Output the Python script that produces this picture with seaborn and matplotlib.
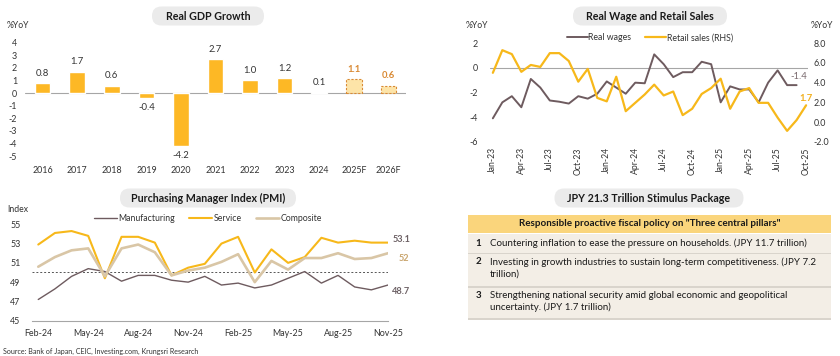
import matplotlib.pyplot as plt
import seaborn as sns
import pandas as pd
import numpy as np
from matplotlib.patches import FancyBboxPatch, Rectangle

# ---- data ----
gdp_years = ['2016', '2017', '2018', '2019', '2020', '2021', '2022', '2023', '2024', '2025F', '2026F']
gdp_growth = [0.8, 1.7, 0.6, -0.4, -4.2, 2.7, 1.0, 1.2, 0.1, 1.1, 0.6]
gdp_forecast = [False] * 9 + [True] * 2

wage_months = ['Jan-23', 'Feb-23', 'Mar-23', 'Apr-23', 'May-23', 'Jun-23', 'Jul-23', 'Aug-23', 'Sep-23',
               'Oct-23', 'Nov-23', 'Dec-23', 'Jan-24', 'Feb-24', 'Mar-24', 'Apr-24', 'May-24', 'Jun-24',
               'Jul-24', 'Aug-24', 'Sep-24', 'Oct-24', 'Nov-24', 'Dec-24', 'Jan-25', 'Feb-25', 'Mar-25',
               'Apr-25', 'May-25', 'Jun-25', 'Jul-25', 'Aug-25', 'Sep-25', 'Oct-25']
real_wages = [-4.1, -2.8, -2.3, -3.2, -0.9, -1.6, -2.65, -2.75, -2.9, -2.3, -2.5, -2.1,
              -1.1, -1.6, -2.1, -1.2, -1.25, 1.1, 0.3, -0.75, -0.35, -0.35, 0.5, 0.3,
              -2.8, -1.5, -1.75, -1.75, -2.8, -1.2, -0.2, -1.4, -1.4, np.nan]
retail_sales = [5.0, 7.3, 6.9, 5.1, 5.8, 5.6, 7.0, 7.0, 6.2, 4.1, 5.4, 2.45,
                2.1, 4.6, 1.1, 1.95, 2.8, 3.8, 2.7, 3.1, 0.7, 1.35, 2.85, 3.45,
                4.4, 1.35, 3.1, 3.45, 1.95, 1.95, 0.45, -0.9, 0.2, 1.7]

pmi_months = ['Feb-24', 'Mar-24', 'Apr-24', 'May-24', 'Jun-24', 'Jul-24', 'Aug-24', 'Sep-24', 'Oct-24',
              'Nov-24', 'Dec-24', 'Jan-25', 'Feb-25', 'Mar-25', 'Apr-25', 'May-25', 'Jun-25', 'Jul-25',
              'Aug-25', 'Sep-25', 'Oct-25', 'Nov-25']
pmi_manufacturing = [47.2, 48.3, 49.6, 50.4, 50.1, 49.1, 49.7, 49.7, 49.2, 49.0, 49.6,
                     48.7, 48.9, 48.4, 48.7, 49.4, 50.1, 48.9, 49.7, 48.5, 48.2, 48.7]
pmi_service = [52.9, 54.1, 54.3, 53.8, 49.4, 53.7, 53.7, 53.1, 49.7, 50.5, 50.9,
               53.0, 53.7, 50.0, 52.4, 51.0, 51.6, 53.6, 53.1, 53.3, 53.1, 53.1]
pmi_composite = [50.6, 51.6, 52.3, 52.5, 49.6, 52.5, 52.9, 52.1, 49.7, 50.2, 50.5,
                 51.1, 51.9, 49.0, 51.2, 50.3, 51.5, 51.5, 52.0, 51.4, 51.5, 52.0]

pillar_header = 'Responsible proactive fiscal policy on "Three central pillars"'
pillar_nums = ['1', '2', '3']
pillar_texts = ['Countering inflation to ease the pressure on households. (JPY 11.7 trillion)',
                'Investing in growth industries to sustain long-term competitiveness. (JPY 7.2\ntrillion)',
                'Strengthening national security amid global economic and geopolitical\nuncertainty. (JPY 1.7 trillion)']

# ---- style ----
sns.set_theme(style="white")
plt.rcParams['font.family'] = ['Lato', 'DejaVu Sans']
plt.rcParams['axes.unicode_minus'] = False
TXT = '#333333'
YELLOW = '#FDB825'
LINE_YELLOW = '#F7B81A'
BROWN = '#6E5B5F'
TAN = '#D9C6A6'
ORANGE = '#D98A35'
TICK_FS = 6.4
LEG_FS = 6.3
W, H = 840, 356


def px_axes(fig, x0, y0, x1, y1):
    # axes from a pixel box, origin top-left
    return fig.add_axes([x0 / W, 1 - y1 / H, (x1 - x0) / W, (y1 - y0) / H])


fig = plt.figure(figsize=(8.4, 3.56), dpi=100)
fig.patch.set_facecolor('white')

# ======== Real GDP Growth ========
ax = px_axes(fig, 25.4, 42.7, 405.6, 156)
df_gdp = pd.DataFrame({'year': gdp_years, 'growth': gdp_growth})
sns.barplot(data=df_gdp, x='year', y='growth', hue='year', legend=False,
            palette=[YELLOW] * len(gdp_years), width=0.45, saturation=1, ax=ax, zorder=2)
for p, fc, val in zip(ax.patches, gdp_forecast, gdp_growth):
    if fc:
        p.set_facecolor('#FDE4A8')
        p.set_edgecolor(ORANGE)
        p.set_linestyle((0, (2, 1.5)))
        p.set_linewidth(0.8)
    x = p.get_x() + p.get_width() / 2
    off = 7 if val >= 0 else -7
    ax.annotate(f'{val:.1f}', (x, val), xytext=(0, off), textcoords='offset points',
                ha='center', va='center', fontsize=6.8, color=ORANGE if fc else TXT,
                fontweight='bold' if fc else 'normal')
ax.axhline(0, color='#A6A6A6', lw=0.8, zorder=1)
ax.set_ylim(-5, 4)
ax.set_xlim(-0.5, 10.5)
ax.set_yticks(range(-5, 5))
ax.set_xlabel('')
ax.set_ylabel('')
sns.despine(ax=ax, left=True, bottom=True)
ax.tick_params(axis='y', length=0, pad=6, labelsize=TICK_FS, labelcolor=TXT)
ax.tick_params(axis='x', length=0, pad=7, labelsize=TICK_FS, labelcolor=TXT)
ax.patch.set_alpha(0)

# ======== Real Wage and Retail Sales ========
axw = px_axes(fig, 490, 43.3, 808, 141.7)
pos_w = np.arange(len(wage_months))
axr = axw.twinx()
sns.lineplot(x=pos_w, y=real_wages, ax=axw, color=BROWN, lw=1.4, label='Real wages', legend=False)
sns.lineplot(x=pos_w, y=retail_sales, ax=axr, color=LINE_YELLOW, lw=1.6, label='Retail sales (RHS)', legend=False)
axw.axhline(0, color='#A6A6A6', lw=0.8, zorder=0)
axw.set_ylim(-6, 2)
axr.set_ylim(-2, 8)
axw.set_xlim(-0.3, 33.2)
axw.set_yticks([-6, -4, -2, 0, 2])
axr.set_yticks([-2, 0, 2, 4, 6, 8])
axr.set_yticklabels([f'{v:.1f}' for v in [-2, 0, 2, 4, 6, 8]])
axw.set_xticks(pos_w[::3])
axw.set_xticklabels(wage_months[::3], rotation=90)
for a in (axw, axr):
    sns.despine(ax=a, left=True, bottom=True, right=True)
    a.set_ylabel('')
    a.patch.set_alpha(0)
axw.tick_params(axis='y', length=0, pad=9, labelsize=TICK_FS, labelcolor=TXT)
axr.tick_params(axis='y', length=0, pad=4, labelsize=TICK_FS, labelcolor=TXT)
axw.tick_params(axis='x', length=0, pad=4, labelsize=6.2, labelcolor=TXT)
last_w = 32
axw.annotate(f'{real_wages[last_w]:.1f}', (pos_w[last_w], real_wages[last_w]), xytext=(1.5, 6),
             textcoords='offset points', fontsize=6.8, color='#7A6A6E', ha='center', va='center')
axr.annotate(f'{retail_sales[-1]:.1f}', (pos_w[-1], retail_sales[-1]), xytext=(0, 5),
             textcoords='offset points', fontsize=6.8, color='#F2B01E', fontweight='bold',
             ha='center', va='center')
h1, l1 = axw.get_legend_handles_labels()
h2, l2 = axr.get_legend_handles_labels()
axr.legend(h1 + h2, l1 + l2, loc='center', bbox_to_anchor=(0.503, 1.055), ncol=2, frameon=False,
           fontsize=LEG_FS, handlelength=2.4, columnspacing=1.6, handletextpad=0.1, labelcolor=TXT)

# ======== PMI ========
axp = px_axes(fig, 31.6, 224.3, 388.0, 320.7)
pos_p = np.arange(len(pmi_months))
sns.lineplot(x=pos_p, y=pmi_manufacturing, ax=axp, color=BROWN, lw=1.0, label='Manufacturing')
sns.lineplot(x=pos_p, y=pmi_service, ax=axp, color=LINE_YELLOW, lw=1.5, label='Service')
sns.lineplot(x=pos_p, y=pmi_composite, ax=axp, color=TAN, lw=1.9, label='Composite')
axp.axhline(50, color='#555555', lw=0.7, ls=(0, (2, 2)), zorder=0)
axp.set_ylim(45, 55)
axp.set_xlim(-0.4, 21.0)
axp.set_yticks(range(45, 56, 2))
axp.set_xticks(pos_p[::3])
axp.set_xticklabels(pmi_months[::3])
sns.despine(ax=axp, left=True)
axp.spines['bottom'].set_color('#A6A6A6')
axp.spines['bottom'].set_linewidth(0.8)
axp.tick_params(axis='y', length=0, pad=8, labelsize=TICK_FS, labelcolor=TXT)
axp.tick_params(axis='x', length=0, pad=6, labelsize=TICK_FS, labelcolor=TXT)
axp.patch.set_alpha(0)
axp.legend(loc='center', bbox_to_anchor=(0.495, 1.055), ncol=3, frameon=False, fontsize=LEG_FS,
           handlelength=2.6, columnspacing=1.6, handletextpad=0.2, labelcolor=TXT)
axp.annotate(f'{pmi_service[-1]:.1f}', (pos_p[-1], pmi_service[-1]), xytext=(3, 2),
             textcoords='offset points', fontsize=6.6, fontweight='bold', color='#6E6266',
             ha='left', va='center')
axp.annotate(f'{pmi_composite[-1]:g}', (pos_p[-1], pmi_composite[-1]), xytext=(8, -3.5),
             textcoords='offset points', fontsize=6.6, fontweight='bold', color='#C9A56E',
             ha='left', va='center')
axp.annotate(f'{pmi_manufacturing[-1]:.1f}', (pos_p[-1], pmi_manufacturing[-1]), xytext=(3, -4.5),
             textcoords='offset points', fontsize=6.6, fontweight='bold', color='#6E6266',
             ha='left', va='center')

# ======== overlay: titles, table, notes ========
ov = fig.add_axes([0, 0, 1, 1], zorder=-1)
ov.set_xlim(0, W)
ov.set_ylim(H, 0)
ov.axis('off')


def pill(cx, cy, w, h, text):
    ov.add_patch(FancyBboxPatch((cx - w / 2 + h / 2, cy - h / 2), w - h, h,
                                boxstyle=f'round,pad=0,rounding_size={h / 2}',
                                fc='#EBEBEB', ec='none'))
    ov.text(cx, cy, text, ha='center', va='center', fontsize=7.7, fontweight='bold', color='#1a1a1a')


pill(208, 16, 131, 19, 'Real GDP Growth')
pill(650, 16, 173, 19, 'Real Wage and Retail Sales')
pill(208, 198, 195, 19, 'Purchasing Manager Index (PMI)')
pill(649, 198, 208, 19, 'JPY 21.3 Trillion Stimulus Package')

ov.text(7, 25, '%YoY', fontsize=6.2, color=TXT, va='center', ha='left')
ov.text(466, 25, '%YoY', fontsize=6.2, color=TXT, va='center', ha='left')
ov.text(833, 25, '%YoY', fontsize=6.2, color=TXT, va='center', ha='right')
ov.text(7, 209, 'Index', fontsize=6.2, color=TXT, va='center', ha='left')
ov.text(3, 351, 'Source: Bank of Japan, CEIC, Investing.com, Krungsri Research',
        fontsize=5.1, color=TXT, va='center', ha='left')

# table
tx0, tx1 = 468, 831
ov.add_patch(Rectangle((tx0, 215), tx1 - tx0, 18, fc='#FAD57C', ec='none'))
ov.text((tx0 + tx1) / 2, 224, pillar_header, ha='center', va='center', fontsize=7.1,
        fontweight='bold', color='#1a1a1a')
row_edges = [233, 253.5, 287, 319]
for i, (num, txt) in enumerate(zip(pillar_nums, pillar_texts)):
    y0, y1 = row_edges[i], row_edges[i + 1]
    ov.add_patch(Rectangle((tx0, y0 + 0.6), tx1 - tx0, y1 - y0 - 1.2, fc='#F3EEE6', ec='none'))
    ov.add_patch(Rectangle((tx0, y1 - 0.6), tx1 - tx0, 1.2, fc='#D9D4CC', ec='none'))
    ty = y0 + 4 if '\n' in txt else (y0 + y1) / 2
    va = 'top' if '\n' in txt else 'center'
    ov.text(478, ty, num, ha='center', va=va, fontsize=7.0, fontweight='bold', color='#1a1a1a')
    ov.text(490, ty, txt, ha='left', va=va, fontsize=7.0, color='#1a1a1a', linespacing=1.3)

fig.savefig('out.png', dpi=100)
